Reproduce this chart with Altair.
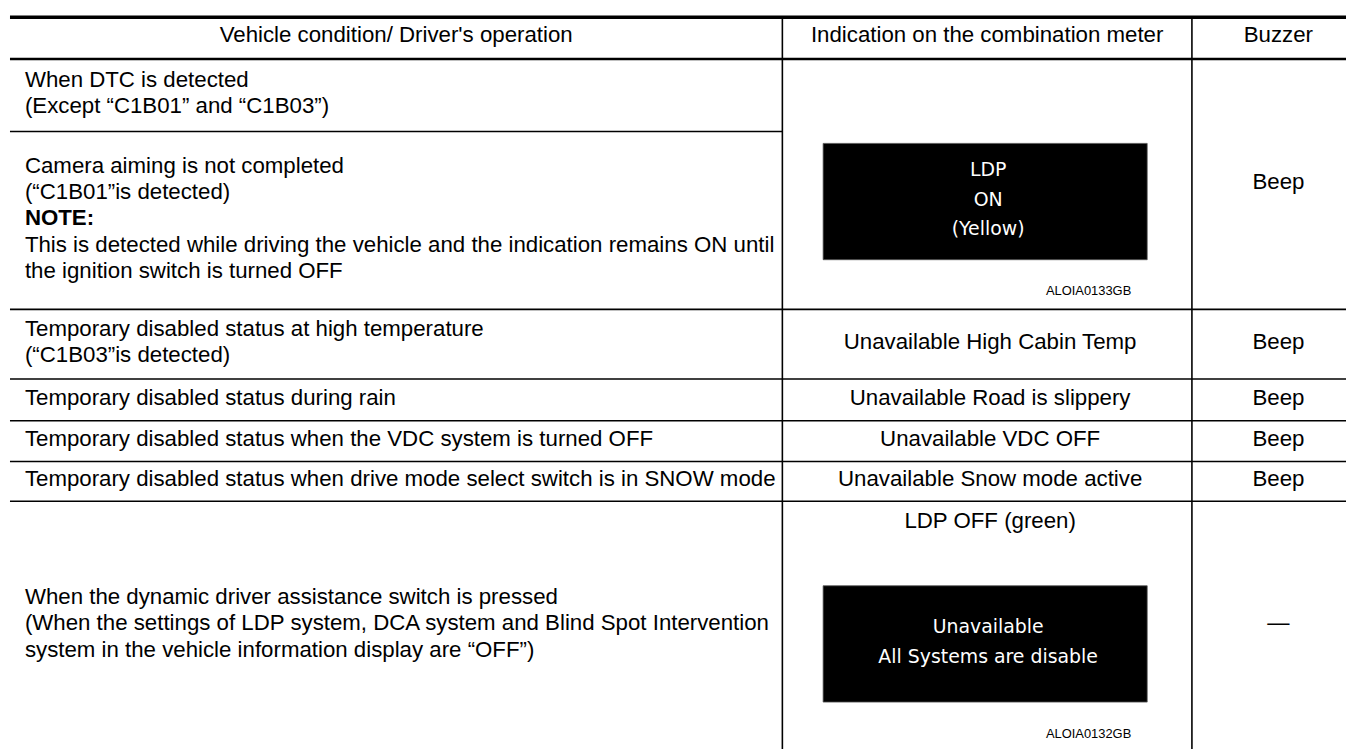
import altair as alt
import pandas as pd

# ---------------- content ----------------
HEADERS = [
    "Vehicle condition/ Driver's operation",
    "Indication on the combination meter",
    "Buzzer",
]

CONDITIONS = [
    ["When DTC is detected", "(Except \u201cC1B01\u201d and \u201cC1B03\u201d)"],
    ["Camera aiming is not completed",
     "(\u201cC1B01\u201dis detected)",
     "NOTE:",
     "This is detected while driving the vehicle and the indication remains ON until",
     "the ignition switch is turned OFF"],
    ["Temporary disabled status at high temperature", "(\u201cC1B03\u201dis detected)"],
    ["Temporary disabled status during rain"],
    ["Temporary disabled status when the VDC system is turned OFF"],
    ["Temporary disabled status when drive mode select switch is in SNOW mode"],
    ["When the dynamic driver assistance switch is pressed",
     "(When the settings of LDP system, DCA system and Blind Spot Intervention",
     "system in the vehicle information display are \u201cOFF\u201d)"],
]
BOLD_LINES = ["NOTE:"]

# cells of the 2nd / 3rd column (each spans condition rows [a, b))
CELL_ROWS = [(0, 2), (2, 3), (3, 4), (4, 5), (5, 6), (6, 7)]
INDICATION_TEXT = [None, "Unavailable High Cabin Temp", "Unavailable Road is slippery",
                   "Unavailable VDC OFF", "Unavailable Snow mode active", "LDP OFF (green)"]
DISPLAY_LINES = [["LDP", "ON", "(Yellow)"], None, None, None, None,
                 ["Unavailable", "All Systems are disable"]]
FIGURE_IDS = ["ALOIA0133GB", None, None, None, None, "ALOIA0132GB"]
BUZZER = ["Beep", "Beep", "Beep", "Beep", "Beep", "\u2014"]

# ---------------- layout ----------------
FONT = "Liberation Sans"
FS = 22.4
LH = 26.6
X_EDGES = [10, 787, 1199, 1373]
Y_EDGES = [15, 57, 130, 309, 379, 421, 462, 502, 752]
PAD_L = 15
SHIFT = -2
COL2_DX = 3
BOX_X = (828, 1154)
BOX_TOP_OFF = 85
BOX_H = 117
BOX_LH = 30
FIG_RIGHT = 1138
FIG_OFF = 32
TOP_TEXT_OFF = 20


def mid(a, b):
    return (a + b) / 2


texts = []
for i, h in enumerate(HEADERS):
    texts.append(dict(x=mid(X_EDGES[i], X_EDGES[i + 1]),
                      y=mid(Y_EDGES[0], Y_EDGES[1]) + SHIFT - 1, t=h, kind="center"))

for r, lines in enumerate(CONDITIONS):
    top, bot = Y_EDGES[r + 1], Y_EDGES[r + 2]
    c = mid(top, bot) + SHIFT
    n = len(lines)
    for k, ln in enumerate(lines):
        texts.append(dict(x=X_EDGES[0] + PAD_L, y=c + (k - (n - 1) / 2) * LH, t=ln,
                          kind="bold" if ln in BOLD_LINES else "left"))

boxes = []
for j, (a, b) in enumerate(CELL_ROWS):
    top, bot = Y_EDGES[a + 1], Y_EDGES[b + 1]
    c = mid(top, bot) + SHIFT
    cx2 = mid(X_EDGES[1], X_EDGES[2]) + COL2_DX
    cx3 = mid(X_EDGES[2], X_EDGES[3])
    texts.append(dict(x=cx3, y=c, t=BUZZER[j], kind="center"))
    if DISPLAY_LINES[j] is None:
        texts.append(dict(x=cx2, y=c, t=INDICATION_TEXT[j], kind="center"))
        continue
    if INDICATION_TEXT[j] is not None:
        texts.append(dict(x=cx2, y=top + TOP_TEXT_OFF, t=INDICATION_TEXT[j], kind="center"))
    by1 = top + BOX_TOP_OFF
    by2 = by1 + BOX_H
    boxes.append(dict(x=BOX_X[0], x2=BOX_X[1], y=by1, y2=by2))
    bc = mid(by1, by2) - 2
    dl = DISPLAY_LINES[j]
    n = len(dl)
    for k, ln in enumerate(dl):
        texts.append(dict(x=mid(*BOX_X) + COL2_DX, y=bc + (k - (n - 1) / 2) * BOX_LH,
                          t=ln, kind="display"))
    texts.append(dict(x=FIG_RIGHT, y=by2 + FIG_OFF, t=FIGURE_IDS[j], kind="fig"))

rules = [
    dict(x=X_EDGES[0], x2=X_EDGES[3], y=Y_EDGES[0], y2=Y_EDGES[0], w=3.5),
    dict(x=X_EDGES[0], x2=X_EDGES[3], y=Y_EDGES[1], y2=Y_EDGES[1], w=2.5),
    dict(x=X_EDGES[0], x2=X_EDGES[1], y=Y_EDGES[2], y2=Y_EDGES[2], w=1.6),
]
for yy in Y_EDGES[3:]:
    rules.append(dict(x=X_EDGES[0], x2=X_EDGES[3], y=yy, y2=yy, w=1.6))
for xx in X_EDGES[1:3]:
    rules.append(dict(x=xx, x2=xx, y=Y_EDGES[0], y2=Y_EDGES[-1], w=1.6))

df_text = pd.DataFrame(texts)
df_rules = pd.DataFrame(rules)
df_boxes = pd.DataFrame(boxes)

XS = alt.Scale(domain=[8, 1354], range=[0, 1346], nice=False, zero=False)
YS = alt.Scale(domain=[8, 749], range=[0, 741], nice=False, zero=False)

X = alt.X("x:Q", scale=XS, axis=None)
Y = alt.Y("y:Q", scale=YS, axis=None)

rule_layer = alt.Chart(df_rules).mark_rule(color="#000").encode(
    x=X, x2="x2:Q", y=Y, y2="y2:Q",
    strokeWidth=alt.StrokeWidth("w:Q", scale=None, legend=None))

box_layer = alt.Chart(df_boxes).mark_rect(color="#000", stroke="#555", strokeWidth=0.8).encode(
    x=X, x2="x2:Q", y=Y, y2="y2:Q")

base = alt.Chart(df_text)
left_layer = base.transform_filter("datum.kind == 'left'").mark_text(
    align="left", baseline="middle", font=FONT, fontSize=FS, color="#000").encode(
    x=X, y=Y, text="t:N")
bold_layer = base.transform_filter("datum.kind == 'bold'").mark_text(
    align="left", baseline="middle", font=FONT, fontSize=FS, fontWeight="bold", color="#000").encode(
    x=X, y=Y, text="t:N")
center_layer = base.transform_filter("datum.kind == 'center'").mark_text(
    align="center", baseline="middle", font=FONT, fontSize=FS, color="#000").encode(
    x=X, y=Y, text="t:N")
display_layer = base.transform_filter("datum.kind == 'display'").mark_text(
    align="center", baseline="middle", font="DejaVu Sans", fontSize=19, color="#fff").encode(
    x=X, y=Y, text="t:N")
fig_layer = base.transform_filter("datum.kind == 'fig'").mark_text(
    align="right", baseline="middle", font=FONT, fontSize=13, color="#000").encode(
    x=X, y=Y, text="t:N")

chart = alt.layer(rule_layer, box_layer, left_layer, bold_layer, center_layer,
                  display_layer, fig_layer).properties(
    width=1346, height=741, padding=0, autosize="none", background="#ffffff"
).configure_view(stroke=None)

chart.save("out.html", embed_options={"renderer": "svg", "actions": False})
